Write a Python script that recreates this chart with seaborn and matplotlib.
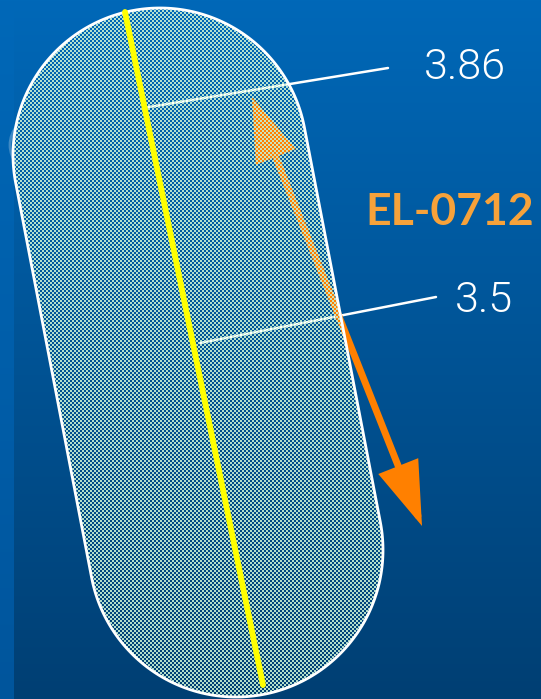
"""Recreation of the EL-0712 capsule diagram."""

import matplotlib
matplotlib.use("Agg")

import matplotlib.pyplot as plt
import numpy as np
import seaborn as sns
from matplotlib.patches import Arc, FancyArrowPatch, Polygon

W, H = 541, 699

# -- geometry (pixel units, y grows downward) --------------------------
cap_top = (160, 155)       # centre of upper semicircle
cap_bottom = (236, 550)    # centre of lower semicircle
cap_radius = 147

axis_line_x = [125, 263]
axis_line_y = [12, 685]

leader_x = [[143, 388], [200, 436]]
leader_y = [[108, 68], [343, 297]]
labels = ["3.86", "3.5"]
label_x = [465, 484]
label_y = [79, 312]

arrow_tail = (252, 97)
arrow_head = (422, 526)
tag = "EL-0712"
tag_x, tag_y = 450, 225

# -- colours -----------------------------------------------------------
BG_TOP = np.array([0, 104, 184]) / 255
BG_BOTTOM = np.array([0, 63, 115]) / 255
STRIP_BOTTOM = np.array([0, 85, 156]) / 255
MINT = np.array([200, 240, 212]) / 255
ORANGE = "#ff8000"
TAG_ORANGE = "#f7a23a"
YELLOW = "#ffff00"

sns.set_theme(style="white")

fig = plt.figure(figsize=(W / 100, H / 100), dpi=100)
ax = fig.add_axes([0, 0, 1, 1])

# background gradient with the slightly lighter strip on the left
t = np.linspace(0, 1, H)[:, None, None]
bg = np.repeat(BG_TOP + (BG_BOTTOM - BG_TOP) * t, W, axis=1)
bg[:, :14] = (BG_TOP + (STRIP_BOTTOM - BG_TOP) * t)[:, 0][:, None]
ax.imshow(bg, extent=(0, W, H, 0), interpolation="nearest", aspect="auto", zorder=0)

# faint ghost arc at the far left
ax.add_patch(Arc((52, 145), 84, 70, theta1=150, theta2=210, color="white",
                 alpha=0.25, lw=2, zorder=1))

# capsule outline
c0 = np.array(cap_top, float)
c1 = np.array(cap_bottom, float)
d = (c1 - c0) / np.linalg.norm(c1 - c0)
n = np.array([d[1], -d[0]])
phi = np.linspace(0, np.pi, 160)[:, None]
top_arc = c0 + cap_radius * (np.cos(phi) * n - np.sin(phi) * d)
bottom_arc = c1 + cap_radius * (-np.cos(phi) * n + np.sin(phi) * d)
capsule = Polygon(np.vstack([top_arc, bottom_arc]), closed=True,
                  facecolor="none", edgecolor="white", lw=2, zorder=5)
ax.add_patch(capsule)

# leader lines (under the dither so they look pale inside the capsule)
for lx, ly in zip(leader_x, leader_y):
    sns.lineplot(x=lx, y=ly, color="white", lw=1.8, sort=False, ax=ax, zorder=2)

# double-headed orange arrow
ax.add_patch(FancyArrowPatch(
    posA=arrow_tail, posB=arrow_head,
    arrowstyle="<|-|>,head_length=36,head_width=12",
    color=ORANGE, lw=5, shrinkA=0, shrinkB=0, joinstyle="miter", zorder=2,
))

# checker dither fill clipped to the capsule
rr, cc = np.mgrid[0:H, 0:W]
chk = np.zeros((H, W, 4))
chk[..., :3] = MINT
chk[..., 3] = 0.9 * ((rr // 2 + cc // 2) % 2 == 0)
im = ax.imshow(chk, extent=(0, W, H, 0), interpolation="nearest", aspect="auto", zorder=3)
im.set_clip_path(capsule)

# yellow centre line
sns.lineplot(x=axis_line_x, y=axis_line_y, color=YELLOW, lw=4.2, sort=False, ax=ax, zorder=6)

# labels
for txt, x, y in zip(labels, label_x, label_y):
    ax.text(x, y, txt, color="white", fontsize=31, family="Roboto", fontweight=300,
            ha="center", va="baseline", zorder=7)
ax.text(tag_x, tag_y, tag, color=TAG_ORANGE, fontsize=32, family="Lato",
        fontweight="bold", ha="center", va="baseline", zorder=7)

ax.set_xlim(0, W)
ax.set_ylim(H, 0)
ax.axis("off")

fig.savefig("out.png", dpi=100)
